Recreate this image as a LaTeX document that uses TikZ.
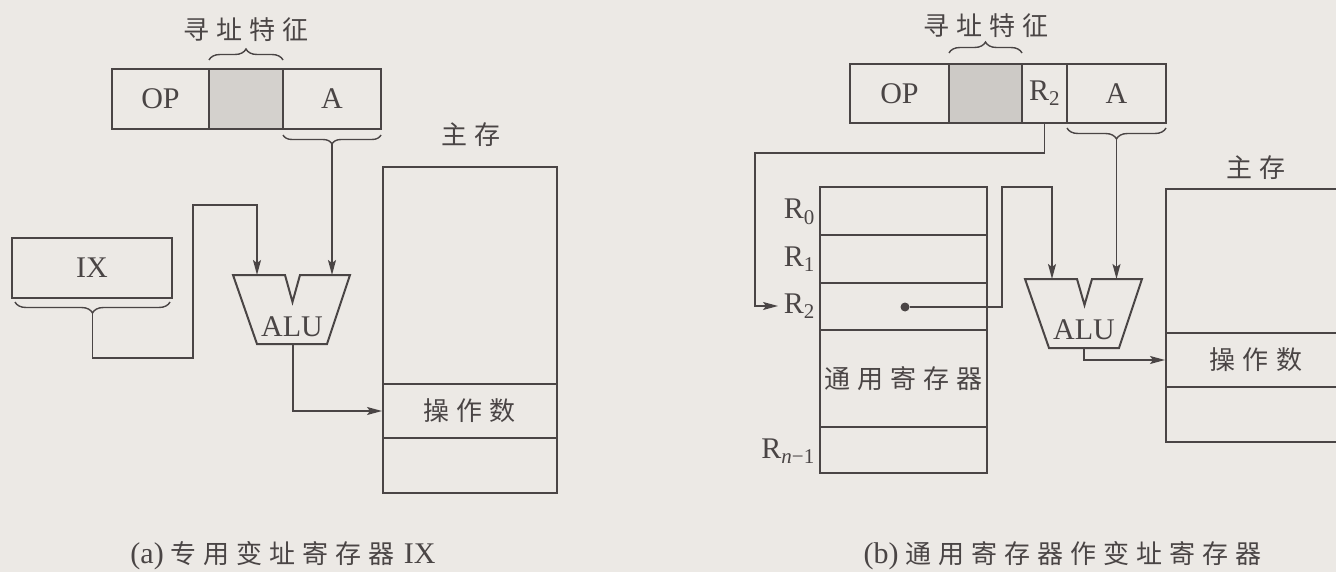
\documentclass[tikz,border=0pt]{standalone}
\usepackage{fontspec}
\setmainfont{Liberation Serif}
\newfontfamily\cjk[LetterSpace=27]{Noto Sans CJK SC}
\usetikzlibrary{arrows.meta,decorations.pathreplacing}
\definecolor{ink}{HTML}{4A4545}
\definecolor{bg}{HTML}{ECE9E5}
\definecolor{shadeA}{HTML}{D4D1CD}
\definecolor{shadeB}{HTML}{CDCAC6}
\newcommand\cn[1]{{\cjk\fontsize{26pt}{28pt}\selectfont #1}}
\begin{document}
\begin{tikzpicture}[x=1pt,y=-1pt,
  every node/.style={text=ink,font=\fontsize{30pt}{32pt}\selectfont},
  fld/.style={draw=ink,line width=2pt,inner sep=0pt,rectangle},
  edge/.style={draw=ink,line width=2pt,line join=miter},
  arr/.style={draw=ink,line width=1.4pt,-{Stealth[length=15pt,width=8pt,inset=3pt]}},
  brc/.style={draw=ink,line width=1.4pt,decorate,decoration={brace,amplitude=#1}},
  lab/.style={inner sep=0pt,anchor=base east}]
\fill[bg] (0,0) rectangle (1336,572);
\useasboundingbox (0,0) rectangle (1336,572);

% ---------------- (a) ----------------
\node (titA) at (246,30) {\cn{寻址特征}};
\node[fld,minimum width=97pt,minimum height=60pt] (opA) at (160.5,99) {OP};
\node[fld,fill=shadeA,minimum width=74pt,minimum height=60pt] (shA) at (246,99) {};
\node[fld,minimum width=98pt,minimum height=60pt] (aA) at (332,99) {A};
\draw[brc=11pt] (209,60) -- (283,60);
\draw[brc=9pt] (381,135) -- (283,135);
\coordinate (bA) at (332,144);

\node[fld,minimum width=160pt,minimum height=60pt] (ix) at (92,268) {IX};
\draw[brc=11pt] (170,302) -- (15,302);
\coordinate (bIX) at (92.5,313);

\draw[edge] (233,275) -- (285,275) -- (292.5,302) -- (300,275) -- (350,275) -- (327,344) -- (257,344) -- cycle;
\node (aluA) at (292,327) {ALU};
\coordinate (aluAL) at (257,275);
\coordinate (aluAR) at (332,275);
\coordinate (aluAo) at (293,344);

\node (mlabA) at (471,135) {\cn{主存}};
\node[fld,minimum width=174pt,minimum height=217pt] (mtA) at (470,275.5) {};
\node[fld,minimum width=174pt,minimum height=54pt] (opdA) at (470,411) {\cn{操作数}};
\node[fld,minimum width=174pt,minimum height=55pt] (mbA) at (470,465.5) {};

\draw[arr] (bA) -- (aluAR);
\draw[arr] (bIX) -- ++(0,45) -| ++(100.5,-153) -| (aluAL);
\draw[arr] (aluAo) |- (opdA.west);

\node (capA) at (283,556) {(a)\hspace{7pt}\cn{专用变址寄存器}\hspace{9pt}IX};

% ---------------- (b) ----------------
\node (titB) at (986,26) {\cn{寻址特征}};
\node[fld,minimum width=99pt,minimum height=59pt] (opB) at (899.5,93.5) {OP};
\node[fld,fill=shadeB,minimum width=73pt,minimum height=59pt] (shB) at (985.5,93.5) {};
\node[fld,minimum width=45pt,minimum height=59pt] (r2B) at (1044.5,93.5) {R\textsubscript{2}};
\node[fld,minimum width=99pt,minimum height=59pt] (aB) at (1116.5,93.5) {A};
\draw[brc=11pt] (949,53) -- (1022,53);
\draw[brc=11pt] (1166,128) -- (1067,128);
\coordinate (bB) at (1116.5,139);

\node[fld,minimum width=167pt,minimum height=48pt] (rc0) at (903.5,211) {};
\node[fld,minimum width=167pt,minimum height=48pt] (rc1) at (903.5,259) {};
\node[fld,minimum width=167pt,minimum height=47pt] (rc2) at (903.5,306.5) {};
\node[fld,minimum width=167pt,minimum height=97pt] (rcm) at (903.5,378.5) {\cn{通用寄存器}};
\node[fld,minimum width=167pt,minimum height=46pt] (rcn) at (903.5,450) {};
\node[lab] (l0) at (815,219) {R\textsubscript{0}};
\node[lab] (l1) at (815,266) {R\textsubscript{1}};
\node[lab] (l2) at (815,313) {R\textsubscript{2}};
\node[lab] (ln) at (815,458) {R\textsubscript{\textit{n}−1}};
\coordinate (r2in) at (778,306);
\node[circle,fill=ink,inner sep=0pt,minimum size=9pt] (dot) at (905,307) {};

\draw[edge] (1025,279) -- (1077,279) -- (1084.5,305) -- (1092,279) -- (1142,279) -- (1119,348) -- (1049,348) -- cycle;
\node (aluB) at (1084,330) {ALU};
\coordinate (aluBL) at (1052,279);
\coordinate (aluBR) at (1116.5,279);
\coordinate (aluBo) at (1084,348);

\node (mlabB) at (1256,168) {\cn{主存}};
\node[fld,minimum width=180pt,minimum height=144pt] (mtB) at (1256,261) {};
\node[fld,minimum width=180pt,minimum height=54pt] (opdB) at (1256,360) {\cn{操作数}};
\node[fld,minimum width=180pt,minimum height=55pt] (mbB) at (1256,414.5) {};

\draw[arr] (r2B.south) -- ++(0,29) -| (755,306) -- (r2in);
\draw[arr] (dot) -- (1002,307) -- (1002,187) -| (aluBL);
\draw[arr] (bB) -- (aluBR);
\draw[arr] (aluBo) |- (opdB.west);

\node[anchor=west] (capB) at (860,556) {(b)\hspace{7pt}\cn{通用寄存器作变址寄存器}};
\end{tikzpicture}
\end{document}
